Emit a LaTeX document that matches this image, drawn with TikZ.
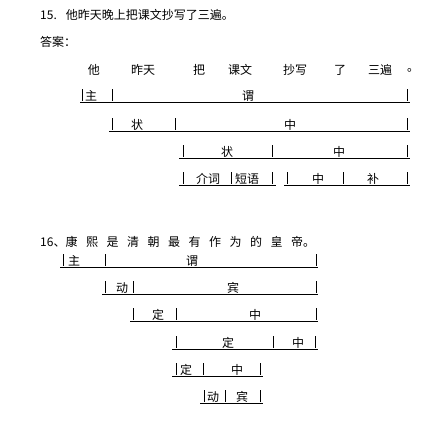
\documentclass[tikz,border=0pt]{standalone}
\usepackage{fontspec}
\newfontfamily\cjk{Noto Sans CJK SC}
\tikzset{
  lbl/.style={font=\cjk\fontsize{12}{12}\selectfont, inner sep=0pt, anchor=center},
  ttl/.style={font=\cjk\fontsize{12}{12}\selectfont, inner sep=0pt, anchor=west},
  hl/.style={line width=0.9pt, black},
  vb/.style={line width=0.75pt, black}
}
\newcommand\glrow[4]{%
  \draw[hl] (#2,#1) -- (#3,#1);
  \foreach \b in {#4} {\draw[vb] (\b,#1-1.5) -- (\b,#1-13);}
}
\newcommand\chgap{\kern8.5pt}
\begin{document}
\begin{tikzpicture}[x=1pt,y=-1pt]
\useasboundingbox (0,0) rectangle (440,424);
\fill[white] (0,0) rectangle (440,424);

% ---------- 15 ----------
\node[ttl] (t15) at (40,15) {15.\kern9pt 他昨天晚上把课文抄写了三遍。};
\node[ttl] (ans) at (40,42) {答案：};

\node[lbl] (w1) at (94,70) {他};
\node[lbl] (w2) at (143,70) {昨天};
\node[lbl] (w3) at (199,70) {把};
\node[lbl] (w4) at (240,70) {课文};
\node[lbl] (w5) at (295,70) {抄写};
\node[lbl] (w6) at (340,70) {了};
\node[lbl] (w7) at (380,70) {三遍};
\node[lbl] (w8) at (413,70) {。};

\glrow{102}{80}{410}{82,112,407}
\node[lbl] (a1) at (91,96) {主};
\node[lbl] (a2) at (248,96) {谓};

\glrow{131}{109}{410}{112,175,407}
\node[lbl] (b1) at (137,125) {状};
\node[lbl] (b2) at (290,125) {中};

\glrow{158}{179}{410}{183,272,407}
\node[lbl] (c1) at (227,152) {状};
\node[lbl] (c2) at (339,152) {中};

\glrow{185}{179}{276}{183,231,272}
\glrow{185}{284}{410}{287,343,407}
\node[lbl] (d1) at (208,179) {介词};
\node[lbl] (d2) at (247,179) {短语};
\node[lbl] (d3) at (318,179) {中};
\node[lbl] (d4) at (373,179) {补};

% ---------- 16 ----------
\node[ttl] (t16) at (40,242) {16、康\chgap 熙\chgap 是\chgap 清\chgap 朝\chgap 最\chgap 有\chgap 作\chgap 为\chgap 的\chgap 皇\chgap 帝。};

\glrow{267}{60}{318}{63,105,316}
\node[lbl] (e1) at (74,261) {主};
\node[lbl] (e2) at (192,261) {谓};

\glrow{294}{102}{318}{105,133,316}
\node[lbl] (f1) at (122,288) {动};
\node[lbl] (f2) at (233,288) {宾};

\glrow{321}{130}{318}{133,176,316}
\node[lbl] (g1) at (158,315) {定};
\node[lbl] (g2) at (255,315) {中};

\glrow{349}{172}{318}{176,273,315}
\node[lbl] (h1) at (228,343) {定};
\node[lbl] (h2) at (298,343) {中};

\glrow{376}{172}{263}{176,203,260}
\node[lbl] (i1) at (186,370) {定};
\node[lbl] (i2) at (237,370) {中};

\glrow{403}{200}{263}{204,225,260}
\node[lbl] (j1) at (213,397) {动};
\node[lbl] (j2) at (242,397) {宾};
\end{tikzpicture}
\end{document}
